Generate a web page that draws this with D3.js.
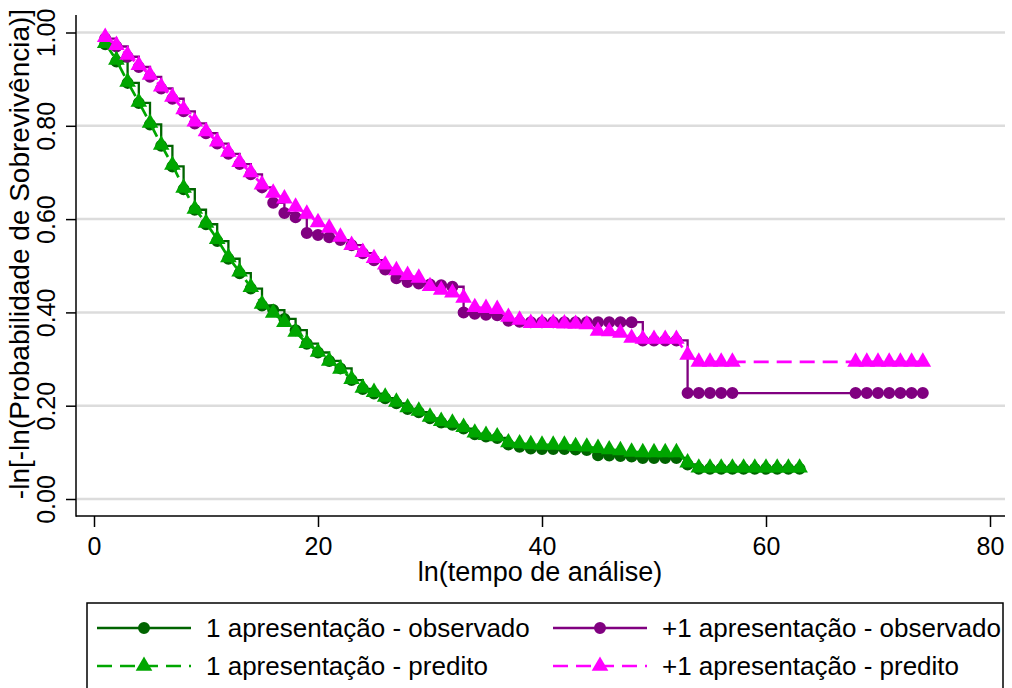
<!DOCTYPE html>
<html>
<head>
<meta charset="utf-8">
<script src="https://cdn.jsdelivr.net/npm/d3@7"></script>
<style>
	body { margin: 0; background: #fff; }
	svg { display: block; font-family: 'Liberation Sans', Arial, sans-serif; }
</style>
</head>
<body>
<svg></svg>
<script>
const w = 1012;
const h = 688;

// tempo (grupo 1 vai de 1 a 63, grupo 2 de 1 a 57 e 68 a 74)
const times1 = d3.range(1, 64);
const times2 = d3.range(1, 58).concat(d3.range(68, 75));

const obs1 = [0.975, 0.938, 0.892, 0.849, 0.803, 0.757, 0.713, 0.664, 0.620, 0.589,
	0.553, 0.515, 0.484, 0.451, 0.415, 0.405, 0.386, 0.362, 0.333, 0.314,
	0.296, 0.280, 0.255, 0.236, 0.226, 0.216, 0.205, 0.193, 0.186, 0.173,
	0.164, 0.159, 0.151, 0.139, 0.134, 0.131, 0.117, 0.112, 0.108, 0.107,
	0.107, 0.107, 0.106, 0.105, 0.094, 0.093, 0.092, 0.091, 0.088, 0.088,
	0.088, 0.088, 0.074, 0.065, 0.065, 0.065, 0.065, 0.065, 0.065, 0.065,
	0.065, 0.065, 0.065];

const pred1 = [0.977, 0.941, 0.894, 0.851, 0.806, 0.759, 0.716, 0.667, 0.622, 0.592,
	0.557, 0.518, 0.487, 0.454, 0.418, 0.399, 0.379, 0.358, 0.334, 0.315,
	0.296, 0.279, 0.257, 0.238, 0.229, 0.219, 0.208, 0.196, 0.189, 0.176,
	0.167, 0.163, 0.154, 0.142, 0.137, 0.134, 0.121, 0.119, 0.117, 0.116,
	0.116, 0.116, 0.113, 0.112, 0.109, 0.106, 0.104, 0.101, 0.100, 0.100,
	0.100, 0.100, 0.078, 0.067, 0.067, 0.067, 0.067, 0.067, 0.067, 0.067,
	0.067, 0.067, 0.067];

const obs2 = [0.987, 0.970, 0.948, 0.926, 0.905, 0.880, 0.858, 0.831, 0.805, 0.784,
	0.762, 0.740, 0.718, 0.696, 0.668, 0.635, 0.613, 0.604, 0.570, 0.566,
	0.561, 0.555, 0.544, 0.527, 0.512, 0.492, 0.473, 0.465, 0.462, 0.460,
	0.458, 0.455, 0.400, 0.397, 0.395, 0.394, 0.382, 0.380, 0.379, 0.379,
	0.379, 0.379, 0.379, 0.379, 0.379, 0.379, 0.379, 0.379, 0.340, 0.340,
	0.340, 0.340, 0.227, 0.227, 0.227, 0.227, 0.227,
	0.227, 0.227, 0.227, 0.227, 0.227, 0.227, 0.227];

const pred2 = [0.990, 0.973, 0.952, 0.930, 0.909, 0.884, 0.862, 0.835, 0.809, 0.788,
	0.766, 0.744, 0.722, 0.700, 0.674, 0.656, 0.644, 0.626, 0.611, 0.593,
	0.581, 0.562, 0.544, 0.529, 0.516, 0.502, 0.490, 0.480, 0.474, 0.456,
	0.448, 0.442, 0.431, 0.411, 0.409, 0.407, 0.390, 0.384, 0.377, 0.377,
	0.377, 0.376, 0.375, 0.374, 0.360, 0.359, 0.356, 0.345, 0.343, 0.343,
	0.343, 0.343, 0.309, 0.294, 0.294, 0.294, 0.294,
	0.294, 0.294, 0.294, 0.294, 0.294, 0.294, 0.294];

const xTicks = [0, 20, 40, 60, 80];
const yTicks = [0, 0.2, 0.4, 0.6, 0.8, 1.0];

const series = [
	{ label: '1 apresentação - observado', t: times1, v: obs1, color: '#006400', marker: 'circle', dashed: false },
	{ label: '+1 apresentação - observado', t: times2, v: obs2, color: '#800080', marker: 'circle', dashed: false },
	{ label: '1 apresentação - predito', t: times1, v: pred1, color: '#00a600', marker: 'triangle', dashed: true },
	{ label: '+1 apresentação - predito', t: times2, v: pred2, color: '#ff00ff', marker: 'triangle', dashed: true },
];

const plotLeft = 76;
const plotRight = 1005;
const plotTop = 15;
const plotBottom = 516;
const fontSize = 25;

let canvas = d3.select('svg').attr('width', w).attr('height', h);
canvas.append('rect').attr('width', w).attr('height', h).attr('fill', '#fff');

const xScale = d3.scaleLinear().domain([0, 80]).range([94, 990]);
const yScale = d3.scaleLinear().domain([0, 1]).range([499, 32.5]);

const symbolFor = (m) => (m === 'circle' ? d3.symbol(d3.symbolCircle, 113) : d3.symbol(d3.symbolTriangle, 120));

const drawGrid = () => {
	canvas
		.append('g')
		.selectAll('line')
		.data(yTicks)
		.enter()
		.append('line')
		.attr('x1', plotLeft + 1)
		.attr('x2', plotRight)
		.attr('y1', (d) => yScale(d))
		.attr('y2', (d) => yScale(d))
		.attr('stroke', '#dcdcdc')
		.attr('stroke-width', 2.5);
};

const drawAxes = () => {
	let xAxis = d3.axisBottom(xScale).tickValues(xTicks).tickSize(11).tickPadding(10).tickFormat(d3.format('d'));
	let yAxis = d3.axisLeft(yScale).tickValues(yTicks).tickSize(10).tickFormat(d3.format('.2f'));

	let gx = canvas.append('g').attr('transform', `translate(0,${plotBottom})`).call(xAxis);
	gx.select('.domain').remove();
	gx.selectAll('line').attr('stroke', '#000').attr('stroke-width', 1.5);
	gx.selectAll('text').attr('font-size', fontSize).attr('font-family', null).attr('fill', '#000');

	let gy = canvas.append('g').attr('transform', `translate(${plotLeft},0)`).call(yAxis);
	gy.select('.domain').remove();
	gy.selectAll('line').attr('stroke', '#000').attr('stroke-width', 1.5);
	gy.selectAll('text')
		.attr('font-size', fontSize)
		.attr('font-family', null)
		.attr('fill', '#000')
		.attr('transform', 'rotate(-90)')
		.attr('x', 0)
		.attr('y', -21)
		.attr('dy', 0)
		.attr('text-anchor', 'middle');

	// axis lines
	canvas.append('line').attr('x1', plotLeft).attr('x2', plotLeft).attr('y1', plotTop).attr('y2', plotBottom + 0.75)
		.attr('stroke', '#000').attr('stroke-width', 1.5);
	canvas.append('line').attr('x1', plotLeft).attr('x2', plotRight).attr('y1', plotBottom).attr('y2', plotBottom)
		.attr('stroke', '#000').attr('stroke-width', 1.5);

	canvas.append('text')
		.attr('x', 540)
		.attr('y', 581)
		.attr('text-anchor', 'middle')
		.attr('font-size', fontSize + 2)
		.text('ln(tempo de análise)');

	canvas.append('text')
		.attr('transform', 'translate(29,254) rotate(-90)')
		.attr('text-anchor', 'middle')
		.attr('font-size', fontSize + 3)
		.text('-ln[-ln(Probabilidade de Sobrevivência)]');
};

const drawSeries = () => {
	series.forEach((s) => {
		let pts = s.t.map((t, i) => [t, s.v[i]]);
		let line = d3
			.line()
			.x((d) => xScale(d[0]))
			.y((d) => yScale(d[1]))
			.curve(s.dashed ? d3.curveLinear : d3.curveStepAfter);

		let g = canvas.append('g');
		g.append('path')
			.datum(pts)
			.attr('d', line)
			.attr('fill', 'none')
			.attr('stroke', s.color)
			.attr('stroke-width', s.dashed ? 2.7 : 2.3)
			.attr('stroke-dasharray', s.dashed ? '15,8' : null);

		g.selectAll('path.pt')
			.data(pts)
			.enter()
			.append('path')
			.attr('class', 'pt')
			.attr('d', symbolFor(s.marker))
			.attr('transform', (d) => `translate(${xScale(d[0])},${yScale(d[1])})`)
			.attr('fill', s.color);
	});
};

const drawLegend = () => {
	let lg = canvas.append('g');
	lg.append('rect')
		.attr('x', 87)
		.attr('y', 603)
		.attr('width', 916)
		.attr('height', 110)
		.attr('fill', '#fff')
		.attr('stroke', '#000')
		.attr('stroke-width', 1.5);

	let cols = [97, 553];
	let rows = [628, 666];
	series.forEach((s, i) => {
		let x0 = cols[i % 2];
		let y0 = rows[Math.floor(i / 2)];
		lg.append('line')
			.attr('x1', x0)
			.attr('x2', x0 + 94)
			.attr('y1', y0)
			.attr('y2', y0)
			.attr('stroke', s.color)
			.attr('stroke-width', s.dashed ? 2.7 : 2.3)
			.attr('stroke-dasharray', s.dashed ? '15,8' : null);
		lg.append('path')
			.attr('d', symbolFor(s.marker))
			.attr('transform', `translate(${x0 + 47},${y0})`)
			.attr('fill', s.color);
		lg.append('text')
			.attr('x', x0 + 109)
			.attr('y', y0)
			.attr('dy', '0.36em')
			.attr('font-size', fontSize + 1)
			.text(s.label);
	});
};

drawGrid();
drawSeries();
drawAxes();
drawLegend();
</script>
</body>
</html>
